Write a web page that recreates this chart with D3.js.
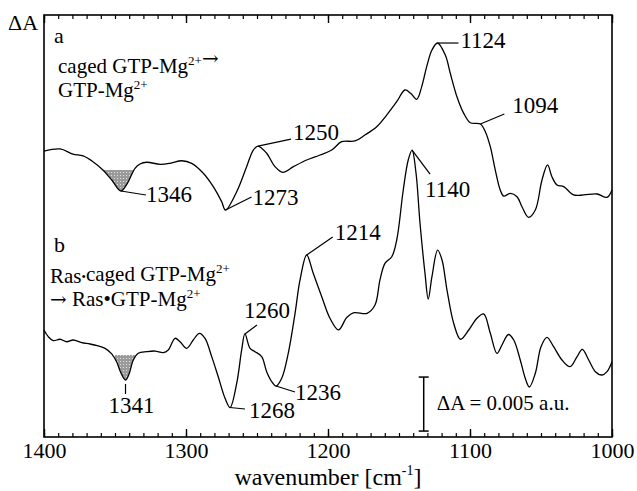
<!DOCTYPE html>
<html>
<head>
<meta charset="utf-8">
<script src="https://cdn.jsdelivr.net/npm/d3@7"></script>
<style>
  body { margin: 0; background: #fff; }
  svg { display: block; }
  text { font-family: "Liberation Serif", "Times New Roman", serif; fill: #000; }
</style>
</head>
<body>
<svg id="chart"></svg>
<script>
// spectrum a: caged GTP-Mg2+ -> GTP-Mg2+  (wavenumber cm-1, dA in 1e-3 a.u., offset)
var wnA = [1400,1388.7,1379.6,1372.5,1365.5,1358.5,1352.3,1345.8,1341.3,1335.9,1332.4,1327.7,1318.3,1311.3,1303.0,1296.0,1287.8,1280.8,1274.9,1272.2,1264.3,1257.3,1252.6,1249.3,1243.2,1237.3,1231.9,1224.4,1215.0,1205.6,1197.4,1190.4,1181.0,1174.0,1165.7,1158.7,1151.6,1145.8,1141.8,1137.5,1134.0,1130.5,1126.8,1122.9,1117.4,1113.9,1109.2,1104.4,1099.8,1092.7,1089.2,1085.7,1082.2,1078.7,1076.3,1071.6,1066.9,1063.4,1058.8,1054.0,1049.3,1045.4,1042.3,1038.7,1034.0,1027.0,1019.9,1010.6,1003.5,1000];
var valA = [26.48,26.67,26.20,26.02,25.49,24.72,23.80,22.78,23.49,24.88,25.28,25.44,25.25,25.34,25.58,25.34,24.42,23.18,21.79,21.02,22.71,25.03,26.57,26.94,26.27,25.03,24.51,25.03,25.65,26.11,26.57,27.34,27.41,27.96,28.73,29.81,31.05,32.13,31.82,31.27,32.44,34.29,35.83,36.48,35.37,33.68,31.51,29.97,29.10,28.98,28.27,26.88,24.72,22.87,22.31,22.56,22.25,21.32,20.34,21.02,23.80,25.19,24.10,23.33,23.18,22.41,22.41,22.50,22.19,22.87];

// spectrum b: Ras.caged GTP-Mg2+ -> Ras.GTP-Mg2+
var wnB = [1400,1397.0,1393.5,1388.7,1384.0,1379.4,1373.5,1367.6,1361.8,1357.0,1352.3,1348.8,1345.8,1342.6,1340.1,1337.1,1333.6,1327.7,1321.8,1316.0,1312.5,1307.7,1304.2,1299.5,1294.9,1290.6,1286.6,1281.9,1277.3,1272.5,1269.0,1264.3,1260.8,1258.5,1254.9,1251.4,1246.7,1243.2,1239.6,1236.6,1232.6,1228.0,1223.2,1219.7,1215.0,1210.4,1204.4,1198.6,1192.6,1186.8,1181.7,1172.5,1166.9,1163.4,1159.9,1155.1,1151.6,1147.0,1143.5,1140.8,1138.0,1135.2,1131.7,1129.4,1126.8,1122.8,1119.7,1116.2,1111.5,1106.7,1100.9,1095.1,1090.4,1085.7,1081.0,1077.5,1072.9,1069.2,1064.6,1061.1,1058.2,1054.0,1050.0,1045.8,1041.1,1035.2,1029.6,1024.6,1020.9,1016.4,1011.7,1007.0,1003.5,1000];
var valB = [9.91,9.29,8.92,9.05,8.82,8.98,8.73,8.61,8.43,8.21,7.69,6.94,5.93,5.28,5.83,7.13,7.75,7.90,7.96,7.81,8.06,9.14,8.82,8.21,8.98,9.60,9.14,7.44,5.58,3.58,2.73,4.97,8.06,9.54,8.21,7.90,7.44,6.05,5.12,4.72,5.44,7.75,11.45,14.54,16.85,15.16,12.99,10.99,9.91,11.06,11.51,11.45,12.22,14.54,16.08,16.69,18.24,22.87,25.65,26.57,24.42,19.79,15.16,12.78,14.84,17.31,16.39,13.61,10.53,9.05,9.91,10.99,11.39,9.60,7.75,8.52,9.49,8.98,7.13,5.44,4.63,5.90,8.36,9.23,8.36,7.13,6.51,7.44,8.12,7.13,6.05,5.74,6.05,6.97];

var majorTicks = [1400, 1300, 1200, 1100, 1000];

// peak labels: anchor wavenumber on curve, leader line offsets, text offset
var labels = [
  {curve: "a", at: 1345.8, text: "1346", line: [0, 0, 25, 4],   pos: [25, 11]},
  {curve: "a", at: 1272.2, text: "1273", line: [0, 0, 26, -13], pos: [27, -5]},
  {curve: "a", at: 1249.3, text: "1250", line: [0, 0, 33, -7],  pos: [35, -6]},
  {curve: "a", at: 1122.9, text: "1124", line: [0, 0, 21, 0],   pos: [23, 5]},
  {curve: "a", at: 1092.7, text: "1094", line: [0, 0, 24, -10], pos: [32, -11]},
  {curve: "b", at: 1140.8, text: "1140", line: [0, 0, 18, 24],  pos: [13, 47]},
  {curve: "b", at: 1342.6, text: "1341", line: [0, 4, 0, 14],   pos: [-17, 33]},
  {curve: "b", at: 1269.0, text: "1268", line: [0, 0, 15, 1.5], pos: [19, 10]},
  {curve: "b", at: 1258.5, text: "1260", line: [0, 0, 12, -9],  pos: [-1, -16]},
  {curve: "b", at: 1236.6, text: "1236", line: [0, 0, 19, 6],   pos: [19, 14]},
  {curve: "b", at: 1215.0, text: "1214", line: [0, 0, 26, -18], pos: [28, -15]}
];

// shaded dips: [from, to] wavenumber and level
var shadeA = {from: 1358, to: 1335, level: 24.72};
var shadeB = {from: 1350, to: 1336, level: 7.59};

var W = 637, H = 491;
var margin = {top: 15, right: 25, bottom: 54, left: 44},
    width = W - margin.left - margin.right,
    height = H - margin.top - margin.bottom;

var x = d3.scaleLinear().domain([1400, 1000]).range([0, width]);
var y = d3.scaleLinear().domain([0, height / 10.8]).range([height, 0]);

var svg = d3.select("#chart").attr("width", W).attr("height", H);

var defs = svg.append("defs");
var pat = defs.append("pattern").attr("id", "dots")
    .attr("width", 3).attr("height", 3).attr("patternUnits", "userSpaceOnUse");
pat.append("rect").attr("width", 3).attr("height", 3).attr("fill", "#9a9a9a");
pat.append("rect").attr("x", 1).attr("y", 1).attr("width", 1).attr("height", 1).attr("fill", "#e0e0e0");

var g = svg.append("g").attr("transform", "translate(" + margin.left + "," + margin.top + ")");

var series = {
  a: wnA.map(function(w, i) { return [w, valA[i]]; }),
  b: wnB.map(function(w, i) { return [w, valB[i]]; })
};

function valueAt(pts, w) {
  for (var i = 0; i < pts.length - 1; i++) {
    if (w <= pts[i][0] && w >= pts[i + 1][0]) {
      var t = (pts[i][0] - w) / (pts[i][0] - pts[i + 1][0]);
      return pts[i][1] + t * (pts[i + 1][1] - pts[i][1]);
    }
  }
  return pts[pts.length - 1][1];
}

// shading
[["a", shadeA], ["b", shadeB]].forEach(function(s, k) {
  var pts = series[s[0]].filter(function(p) { return p[0] <= s[1].from + 6 && p[0] >= s[1].to - 6; });
  var clipId = "clip" + k;
  defs.append("clipPath").attr("id", clipId).append("rect")
      .attr("x", x(s[1].from)).attr("width", x(s[1].to) - x(s[1].from))
      .attr("y", y(s[1].level)).attr("height", height - y(s[1].level));
  g.append("path")
      .datum(pts)
      .attr("clip-path", "url(#" + clipId + ")")
      .attr("fill", "url(#dots)")
      .attr("d", d3.area()
        .x(function(d) { return x(d[0]); })
        .y0(y(s[1].level))
        .y1(function(d) { return y(d[1]); })
        .curve(d3.curveCatmullRom.alpha(0.5)));
});

var line = d3.line()
    .x(function(d) { return x(d[0]); })
    .y(function(d) { return y(d[1]); })
    .curve(d3.curveCatmullRom.alpha(0.5));

["a", "b"].forEach(function(k) {
  g.append("path").datum(series[k])
      .attr("fill", "none").attr("stroke", "#000").attr("stroke-width", 1.3)
      .attr("d", line);
});

// axes
var minor = d3.range(1400, 999, -10);
g.append("g").attr("transform", "translate(0," + height + ")")
    .call(d3.axisBottom(x).tickValues(minor).tickSize(-4).tickFormat(""))
    .call(function(s) { s.select(".domain").remove(); s.selectAll("line").attr("stroke-width", 1.2); });
g.append("g").attr("transform", "translate(0," + height + ")")
    .call(d3.axisBottom(x).tickValues(majorTicks).tickSize(-8).tickFormat(d3.format("d")))
    .call(function(s) {
      s.select(".domain").remove();
      s.selectAll("line").attr("stroke-width", 1.4);
      s.selectAll("text").attr("font-size", "22px").attr("font-family", "Liberation Serif")
        .attr("y", 21).attr("dy", 0);
    });
g.append("g")
    .call(d3.axisTop(x).tickValues(minor).tickSize(-4).tickFormat(""))
    .call(function(s) { s.select(".domain").remove(); s.selectAll("line").attr("stroke-width", 1.2); });
g.append("g")
    .call(d3.axisTop(x).tickValues(majorTicks).tickSize(-8).tickFormat(""))
    .call(function(s) { s.select(".domain").remove(); s.selectAll("line").attr("stroke-width", 1.4); });

g.append("rect").attr("width", width).attr("height", height)
    .attr("fill", "none").attr("stroke", "#000").attr("stroke-width", 1.6);

// peak labels
labels.forEach(function(l) {
  var ax = x(l.at), ay = y(valueAt(series[l.curve], l.at));
  g.append("line")
      .attr("x1", ax + l.line[0]).attr("y1", ay + l.line[1])
      .attr("x2", ax + l.line[2]).attr("y2", ay + l.line[3])
      .attr("stroke", "#000").attr("stroke-width", 1.2);
  g.append("text").attr("x", ax + l.pos[0]).attr("y", ay + l.pos[1])
      .attr("font-size", "23px").text(l.text);
});

// text with superscripts
function rich(xp, yp, parts, size) {
  var t = g.append("text").attr("x", xp).attr("y", yp).attr("font-size", size + "px");
  parts.forEach(function(p) {
    if (p.sup) {
      t.append("tspan").attr("font-size", (size * 0.62) + "px").attr("dy", -8).text(p.sup);
      t.append("tspan").attr("dy", 8).text("");
    } else if (p.small) {
      t.append("tspan").attr("font-size", (size * 0.6) + "px").attr("dy", -2).text(p.small);
      t.append("tspan").attr("dy", 2).text("");
    } else if (p.arrow) {
      t.append("tspan").attr("font-family", "DejaVu Serif").attr("font-size", (size * 0.95) + "px").text(p.arrow);
    } else {
      t.append("tspan").text(p.t);
    }
  });
}

g.append("text").attr("x", 10).attr("y", 28).attr("font-size", "22px").text("a");
rich(14, 58, [{t: "caged GTP-Mg"}, {sup: "2+"}, {arrow: "\u2192"}], 21);
rich(14, 82, [{t: "GTP-Mg"}, {sup: "2+"}], 21);

g.append("text").attr("x", 10).attr("y", 237).attr("font-size", "22px").text("b");
rich(6, 268, [{t: "Ras"}, {small: "\u2022"}, {t: "caged GTP-Mg"}, {sup: "2+"}], 21);
rich(6, 291, [{arrow: "\u2192"}, {t: " Ras\u2022GTP-Mg"}, {sup: "2+"}], 21);

// scale bar dA = 0.005
var barWn = 1132.6, barBase = 0.55, barSize = 5;
var bx = x(barWn), by0 = y(barBase), by1 = y(barBase + barSize);
g.append("line").attr("x1", bx).attr("x2", bx).attr("y1", by0).attr("y2", by1)
    .attr("stroke", "#000").attr("stroke-width", 1.5);
[by0, by1].forEach(function(v) {
  g.append("line").attr("x1", bx - 5).attr("x2", bx + 5).attr("y1", v).attr("y2", v)
      .attr("stroke", "#000").attr("stroke-width", 1.5);
});
g.append("text").attr("x", bx + 13).attr("y", (by0 + by1) / 2 + 6)
    .attr("font-size", "21px").text("\u0394A = 0.005 a.u.");

// axis titles
svg.append("text").attr("x", 8).attr("y", 30).attr("font-size", "22px").text("\u0394A");
var xt = svg.append("text").attr("x", margin.left + width / 2).attr("y", 485)
    .attr("text-anchor", "middle").attr("font-size", "24px");
xt.append("tspan").text("wavenumber [cm");
xt.append("tspan").attr("font-size", "14px").attr("dy", -10).text("-1");
xt.append("tspan").attr("dy", 10).text("]");
</script>
</body>
</html>
